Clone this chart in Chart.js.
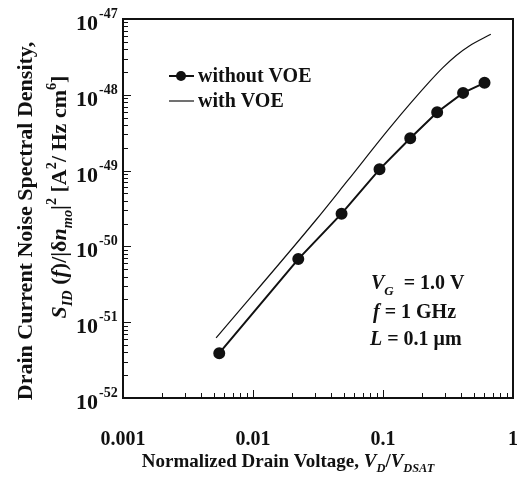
<!DOCTYPE html>
<html>
<head>
<meta charset="utf-8">
<script src="https://cdn.jsdelivr.net/npm/chart.js@4"></script>
<style>
  html, body { margin: 0; padding: 0; background: #fff; }
  #wrap { width: 520px; height: 487px; position: relative; }
</style>
</head>
<body>
<div id="wrap"><canvas id="chart"></canvas></div>
<script>
// data
const xWithout = [0.0055, 0.0223, 0.048, 0.094, 0.162, 0.261, 0.413, 0.604];
const yWithout = [3.9e-52, 6.8e-51, 2.7e-50, 1.04e-49, 2.67e-49, 5.9e-49, 1.06e-48, 1.44e-48];
const xWith = [0.0052, 0.0305, 0.0532, 0.114, 0.229, 0.29, 0.366, 0.461, 0.675];
const yWith = [6.2e-52, 2.23e-50, 7.3e-50, 3.75e-49, 1.5e-48, 2.3e-48, 3.3e-48, 4.4e-48, 6.28e-48];

const xTickValues = [0.001, 0.01, 0.1, 1];
const xTickLabels = ['0.001', '0.01', '0.1', '1'];
const yTickExps = [-52, -51, -50, -49, -48, -47];

const seriesNames = ['without VOE', 'with VOE'];

const INK = '#111';
const SERIF = '"Liberation Serif", "DejaVu Serif", serif';

function font(size, italic) {
    return (italic ? 'italic ' : '') + 'bold ' + size + 'px ' + SERIF;
}

// draw a row of text pieces; flags: i = italic, b = subscript, p = superscript
function runsWidth(ctx, runs, size) {
    let w = 0;
    runs.forEach(r => {
        const f = r[1] || '';
        const s = (f.includes('b') || f.includes('p')) ? size * 0.65 : size;
        ctx.font = font(s, f.includes('i'));
        w += ctx.measureText(r[0]).width;
    });
    return w;
}

function drawRuns(ctx, runs, x, y, size, align) {
    let cx = x;
    if (align === 'center') cx = x - runsWidth(ctx, runs, size) / 2;
    ctx.textBaseline = 'alphabetic';
    ctx.textAlign = 'left';
    runs.forEach(r => {
        const f = r[1] || '';
        let s = size, dy = 0;
        if (f.includes('b')) { s = size * 0.65; dy = size * 0.28; }
        if (f.includes('p')) { s = size * 0.65; dy = -size * 0.45; }
        ctx.font = font(s, f.includes('i'));
        ctx.fillText(r[0], cx, y + dy);
        cx += ctx.measureText(r[0]).width;
    });
}

const decorPlugin = {
    id: 'decor',
    afterDraw(chart) {
        const ctx = chart.ctx;
        const a = chart.chartArea;
        const xs = chart.scales.x;
        const ys = chart.scales.y;
        ctx.save();
        ctx.fillStyle = INK;
        ctx.strokeStyle = INK;

        // frame
        ctx.lineWidth = 2;
        ctx.strokeRect(a.left, a.top, a.right - a.left, a.bottom - a.top);

        // inward ticks
        ctx.lineWidth = 1;
        ctx.beginPath();
        for (let e = -3; e <= 0; e++) {
            for (let m = 1; m <= 9; m++) {
                const v = m * Math.pow(10, e);
                if (v > 1) break;
                const px = Math.round(xs.getPixelForValue(v)) + 0.5;
                const len = m === 1 ? 8 : 5;
                ctx.moveTo(px, a.bottom);
                ctx.lineTo(px, a.bottom - len);
            }
        }
        for (let e = -52; e <= -47; e++) {
            for (let m = 1; m <= 9; m++) {
                const v = m * Math.pow(10, e);
                if (e === -47 && m > 1) break;
                const py = Math.round(ys.getPixelForValue(v)) + 0.5;
                const len = m === 1 ? 8 : 5;
                ctx.moveTo(a.left, py);
                ctx.lineTo(a.left + len, py);
            }
        }
        ctx.stroke();

        // x tick labels
        ctx.font = font(20);
        ctx.textAlign = 'center';
        ctx.textBaseline = 'middle';
        xTickValues.forEach((v, i) => {
            ctx.fillText(xTickLabels[i], xs.getPixelForValue(v), 440);
        });

        // y tick labels 10^n
        yTickExps.forEach(e => {
            const py = ys.getPixelForValue(Math.pow(10, e));
            ctx.textAlign = 'right';
            ctx.textBaseline = 'alphabetic';
            ctx.font = font(22);
            ctx.fillText('10', 98, py + 11);
            ctx.textAlign = 'left';
            ctx.font = font(14);
            ctx.fillText(String(e), 99, py - 1);
        });

        // x axis title
        drawRuns(ctx, [
            ['Normalized Drain Voltage, '], ['V', 'i'], ['D', 'ib'], ['/'], ['V', 'i'], ['DSAT', 'ib']
        ], 288, 467, 19, 'center');

        // y axis title (two rotated lines)
        ctx.save();
        ctx.translate(32, 221);
        ctx.rotate(-Math.PI / 2);
        drawRuns(ctx, [['Drain Current Noise Spectral Density,']], 0, 0, 22, 'center');
        ctx.restore();
        ctx.save();
        ctx.translate(66, 197);
        ctx.rotate(-Math.PI / 2);
        drawRuns(ctx, [
            ['S', 'i'], ['ID', 'ib'], [' ('], ['f', 'i'], [')/|\u03b4'], ['n', 'i'], ['mo', 'ib'], ['|'], ['2', 'p'],
            [' [A'], ['2', 'p'], ['/ Hz cm'], ['6', 'p'], [']']
        ], 0, 0, 22, 'center');
        ctx.restore();

        // legend
        ctx.lineWidth = 2;
        ctx.beginPath();
        ctx.moveTo(169, 76); ctx.lineTo(194, 76);
        ctx.stroke();
        ctx.beginPath();
        ctx.arc(181, 76, 5, 0, Math.PI * 2);
        ctx.fill();
        ctx.lineWidth = 1.2;
        ctx.beginPath();
        ctx.moveTo(169, 101); ctx.lineTo(194, 101);
        ctx.stroke();
        drawRuns(ctx, [[seriesNames[0]]], 198, 82, 20);
        drawRuns(ctx, [[seriesNames[1]]], 198, 107, 20);

        // parameters
        drawRuns(ctx, [['V', 'i'], ['G', 'ib'], ['  = 1.0 V']], 371, 289, 20);
        drawRuns(ctx, [['f', 'i'], [' = 1 GHz']], 373, 318, 20);
        drawRuns(ctx, [['L', 'i'], [' = 0.1 \u03bcm']], 370, 345, 20);

        ctx.restore();
    }
};

const ctx = document.getElementById('chart').getContext('2d');
new Chart(ctx, {
    type: 'scatter',
    data: {
        datasets: [{
            label: seriesNames[0],
            data: xWithout.map((x, i) => ({ x: x, y: yWithout[i] })),
            showLine: true,
            borderColor: INK,
            backgroundColor: INK,
            borderWidth: 2,
            pointRadius: 5,
            pointBackgroundColor: INK,
            pointBorderColor: INK,
            tension: 0
        }, {
            label: seriesNames[1],
            data: xWith.map((x, i) => ({ x: x, y: yWith[i] })),
            showLine: true,
            borderColor: INK,
            borderWidth: 1.2,
            pointRadius: 0,
            cubicInterpolationMode: 'monotone'
        }]
    },
    options: {
        responsive: true,
        maintainAspectRatio: false,
        animation: false,
        layout: { padding: { top: 19, right: 2, left: 0, bottom: 0 } },
        plugins: {
            legend: { display: false },
            tooltip: { enabled: false }
        },
        scales: {
            x: {
                type: 'logarithmic',
                min: 0.001,
                max: 1,
                grid: { display: false },
                border: { display: false },
                ticks: { display: false },
                afterFit: s => { s.height = 89; }
            },
            y: {
                type: 'logarithmic',
                min: 1e-52,
                max: 1e-47,
                grid: { display: false },
                border: { display: false },
                ticks: { display: false },
                afterFit: s => { s.width = 123; }
            }
        }
    },
    plugins: [decorPlugin]
});
</script>
</body>
</html>
